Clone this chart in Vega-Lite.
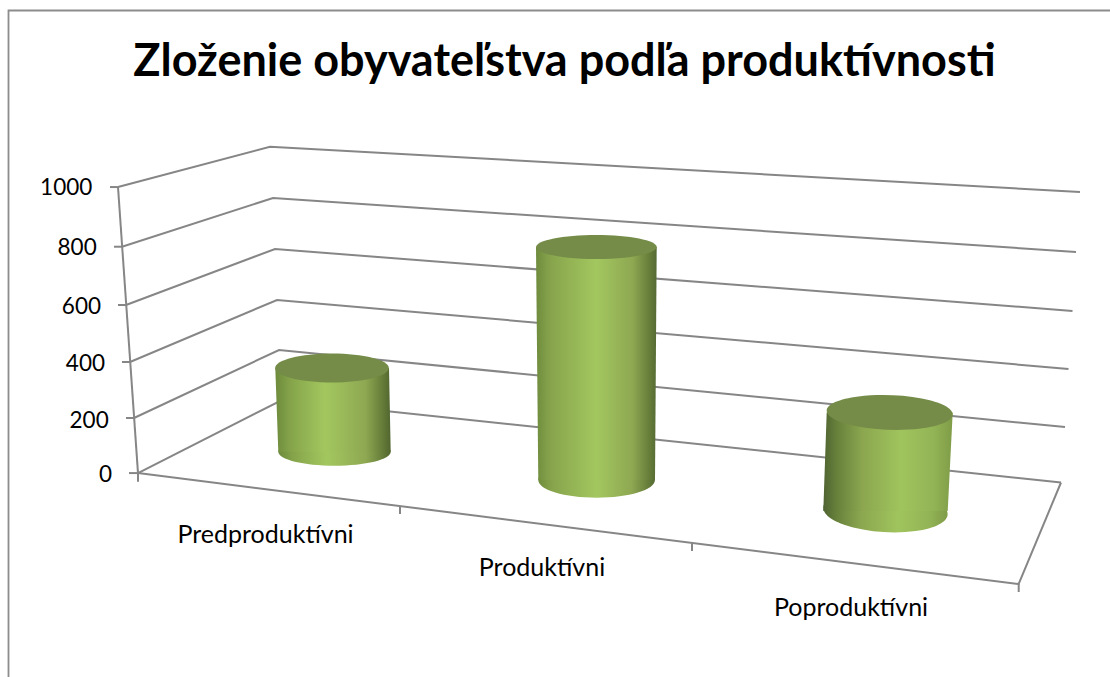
{
"$schema":"https://vega.github.io/schema/vega-lite/v6.json",
"width":1110,"height":677,"padding":0,"autosize":"none","background":"white",
"title":{"text":"Zloženie obyvateľstva podľa produktívnosti","font":"Lato","fontSize":45,"fontWeight":"bold","color":"#000000","anchor":"middle","frame":"group","dx":9.5,"dy":85,"offset":0},
"config":{"view":{"stroke":null}},
"datasets":{
"outline":[
{"path":"wall1000","step":1,"across":118,"level":1000},{"path":"wall1000","step":2,"across":270,"level":1141.1},{"path":"wall1000","step":3,"across":1080,"level":982.7},
{"path":"wall800","step":1,"across":122,"level":791.4},{"path":"wall800","step":2,"across":273,"level":961.7},{"path":"wall800","step":3,"across":1076,"level":772.9},
{"path":"wall600","step":1,"across":126,"level":587.6},{"path":"wall600","step":2,"across":275,"level":783.4},{"path":"wall600","step":3,"across":1072.5,"level":566.6},
{"path":"wall400","step":1,"across":130,"level":388.3},{"path":"wall400","step":2,"across":277,"level":605.1},{"path":"wall400","step":3,"across":1068.5,"level":363.9},
{"path":"wall200","step":1,"across":134,"level":192.5},{"path":"wall200","step":2,"across":279,"level":430.3},{"path":"wall200","step":3,"across":1065,"level":161.1},
{"path":"wall0","step":1,"across":138,"level":0},{"path":"wall0","step":2,"across":282,"level":255.5},{"path":"wall0","step":3,"across":1061,"level":-33},
{"path":"front","step":1,"across":138,"level":0},{"path":"front","step":2,"across":1018.7,"level":-387.8},{"path":"front","step":3,"across":1061,"level":-33},
{"path":"axis","step":1,"across":118,"level":1000},{"path":"axis","step":2,"across":138,"level":0},
{"path":"t1000","step":1,"across":110,"level":1000},{"path":"t1000","step":2,"across":118,"level":1000},
{"path":"t800","step":1,"across":114,"level":791.4},{"path":"t800","step":2,"across":122,"level":791.4},
{"path":"t600","step":1,"across":118,"level":587.6},{"path":"t600","step":2,"across":126,"level":587.6},
{"path":"t400","step":1,"across":122,"level":388.3},{"path":"t400","step":2,"across":130,"level":388.3},
{"path":"t200","step":1,"across":126,"level":192.5},{"path":"t200","step":2,"across":134,"level":192.5},
{"path":"t0","step":1,"across":129,"level":0},{"path":"t0","step":2,"across":138,"level":0},
{"path":"c0","step":1,"across":138,"level":0},{"path":"c0","step":2,"across":138,"level":-30},
{"path":"c1","step":1,"across":400,"level":-115.1},{"path":"c1","step":2,"across":400,"level":-143.1},
{"path":"c2","step":1,"across":692,"level":-244.5},{"path":"c2","step":2,"across":692,"level":-272.5},
{"path":"c3","step":1,"across":1018.7,"level":-387.8},{"path":"c3","step":2,"across":1018.7,"level":-415.8}
],
"frame":[{"step":1,"across":8.5,"level":-713},{"step":2,"across":8.5,"level":1617.3},{"step":3,"across":1110,"level":1617.3}],
"cylinders":[
{"category":"Predproduktívni","end":"top","across":332,"left":275.3,"right":389,"level":367.4},
{"category":"Predproduktívni","end":"base","across":334.5,"left":278.3,"right":390.7,"level":74.7},
{"category":"Produktívni","end":"top","across":596.4,"left":536,"right":656.7,"level":790.4},
{"category":"Produktívni","end":"base","across":596.6,"left":538.3,"right":655,"level":-24.2},
{"category":"Poproduktívni","end":"top","across":889.7,"left":826.7,"right":952.7,"level":211.8},
{"category":"Poproduktívni","end":"base","across":885.5,"left":823.3,"right":947.7,"level":-132.6}
],
"valueLabels":[
{"label":"1000","across":92.3,"level":995.6},{"label":"800","across":96.7,"level":786.9},{"label":"600","across":101,"level":581.7},{"label":"400","across":105,"level":382.4},{"label":"200","across":108.7,"level":182},{"label":"0","across":112,"level":-6.8}
],
"categoryLabels":[
{"label":"Predproduktívni","across":265.5,"level":-216.5},{"label":"Produktívni","across":542,"level":-331.9},{"label":"Poproduktívni","across":851,"level":-471.8}
]
},
"encoding":{
"x":{"field":"across","type":"quantitative","axis":null,"scale":{"domain":[0,1110],"nice":false,"zero":false}},
"y":{"field":"level","type":"quantitative","axis":null,"scale":{"domain":[-713,1654],"nice":false,"zero":false}}
},
"layer":[
{"data":{"name":"frame"},"mark":{"type":"line","color":"#8c8c8c","strokeWidth":1.8},"encoding":{"order":{"field":"step"}}},
{"data":{"name":"outline"},"mark":{"type":"line","color":"#868686","strokeWidth":2},"encoding":{"detail":{"field":"path"},"order":{"field":"step"}}},
{"data":{"name":"cylinders"},"transform":[{"filter":"datum.category == 'Predproduktívni' && datum.end == 'base'"}],
"mark":{"type":"point","filled":true,"opacity":1,"strokeWidth":0,"size":12634,"shape":"M-1,0A1,0.249 0 1,0 1,0A1,0.249 0 1,0 -1,0Z","fill":{"gradient":"linear","x1":0,"y1":0,"x2":1,"y2":0,"stops":[{"offset":0,"color":"#6d8b3c"},{"offset":0.14,"color":"#86a54b"},{"offset":0.43,"color":"#a3c75f"},{"offset":0.78,"color":"#8ea852"},{"offset":0.93,"color":"#647c38"},{"offset":1,"color":"#51652f"}]}}},
{"data":{"name":"cylinders"},"transform":[{"filter":"datum.category == 'Produktívni' && datum.end == 'base'"}],
"mark":{"type":"point","filled":true,"opacity":1,"strokeWidth":0,"size":13619,"shape":"M-1,0A1,0.303 0 1,0 1,0A1,0.303 0 1,0 -1,0Z","fill":{"gradient":"linear","x1":0,"y1":0,"x2":1,"y2":0,"stops":[{"offset":0,"color":"#6f8c3e"},{"offset":0.12,"color":"#87a44c"},{"offset":0.5,"color":"#a3c75f"},{"offset":0.8,"color":"#8ea852"},{"offset":0.94,"color":"#667d3a"},{"offset":1,"color":"#546a33"}]}}},
{"data":{"name":"cylinders"},"transform":[{"filter":"datum.category == 'Poproduktívni' && datum.end == 'base'"}],
"mark":{"type":"point","filled":true,"opacity":1,"strokeWidth":0,"size":15475,"shape":"M-0.9984,-0.056A1,0.338 3.2 1,0 0.9984,0.056A1,0.338 3.2 1,0 -0.9984,-0.056Z","fill":{"gradient":"linear","x1":0,"y1":0,"x2":1,"y2":0,"stops":[{"offset":0,"color":"#4f6331"},{"offset":0.1,"color":"#66803b"},{"offset":0.3,"color":"#8ba64f"},{"offset":0.6,"color":"#a0c45d"},{"offset":0.85,"color":"#93b456"},{"offset":1,"color":"#7f9c47"}]}}},
{"data":{"name":"cylinders"},"transform":[{"filter":"datum.category == 'Predproduktívni'"}],
"mark":{"type":"area","orient":"horizontal","fill":{"gradient":"linear","x1":0,"y1":0,"x2":1,"y2":0,"stops":[{"offset":0,"color":"#6d8b3c"},{"offset":0.14,"color":"#86a54b"},{"offset":0.43,"color":"#a3c75f"},{"offset":0.78,"color":"#8ea852"},{"offset":0.93,"color":"#647c38"},{"offset":1,"color":"#51652f"}]}},
"encoding":{"x":{"field":"left","type":"quantitative"},"x2":{"field":"right"}}},
{"data":{"name":"cylinders"},"transform":[{"filter":"datum.category == 'Produktívni'"}],
"mark":{"type":"area","orient":"horizontal","fill":{"gradient":"linear","x1":0,"y1":0,"x2":1,"y2":0,"stops":[{"offset":0,"color":"#6f8c3e"},{"offset":0.12,"color":"#87a44c"},{"offset":0.5,"color":"#a3c75f"},{"offset":0.8,"color":"#8ea852"},{"offset":0.94,"color":"#667d3a"},{"offset":1,"color":"#546a33"}]}},
"encoding":{"x":{"field":"left","type":"quantitative"},"x2":{"field":"right"}}},
{"data":{"name":"cylinders"},"transform":[{"filter":"datum.category == 'Poproduktívni'"}],
"mark":{"type":"area","orient":"horizontal","fill":{"gradient":"linear","x1":0,"y1":0,"x2":1,"y2":0,"stops":[{"offset":0,"color":"#4f6331"},{"offset":0.1,"color":"#66803b"},{"offset":0.3,"color":"#8ba64f"},{"offset":0.6,"color":"#a0c45d"},{"offset":0.85,"color":"#93b456"},{"offset":1,"color":"#7f9c47"}]}},
"encoding":{"x":{"field":"left","type":"quantitative"},"x2":{"field":"right"}}},
{"data":{"name":"cylinders"},"transform":[{"filter":"datum.category == 'Predproduktívni' && datum.end == 'top'"}],
"mark":{"type":"point","filled":true,"opacity":1,"strokeWidth":0,"fill":"#758c48","size":12928,"shape":"M-1,0A1,0.255 0 1,0 1,0A1,0.255 0 1,0 -1,0Z"}},
{"data":{"name":"cylinders"},"transform":[{"filter":"datum.category == 'Produktívni' && datum.end == 'top'"}],
"mark":{"type":"point","filled":true,"opacity":1,"strokeWidth":0,"fill":"#758c48","size":14568,"shape":"M-1,0A1,0.2 0 1,0 1,0A1,0.2 0 1,0 -1,0Z"}},
{"data":{"name":"cylinders"},"transform":[{"filter":"datum.category == 'Poproduktívni' && datum.end == 'top'"}],
"mark":{"type":"point","filled":true,"opacity":1,"strokeWidth":0,"fill":"#758c48","size":15876,"shape":"M-0.9995,-0.031A1,0.273 1.8 1,0 0.9995,0.031A1,0.273 1.8 1,0 -0.9995,-0.031Z"}},
{"data":{"name":"valueLabels"},"mark":{"type":"text","font":"Lato","fontSize":22.5,"align":"right","baseline":"middle","color":"#000000"},"encoding":{"text":{"field":"label"}}},
{"data":{"name":"categoryLabels"},"mark":{"type":"text","font":"Lato","fontSize":25,"align":"center","baseline":"middle","color":"#000000"},"encoding":{"text":{"field":"label"}}}
]
}
